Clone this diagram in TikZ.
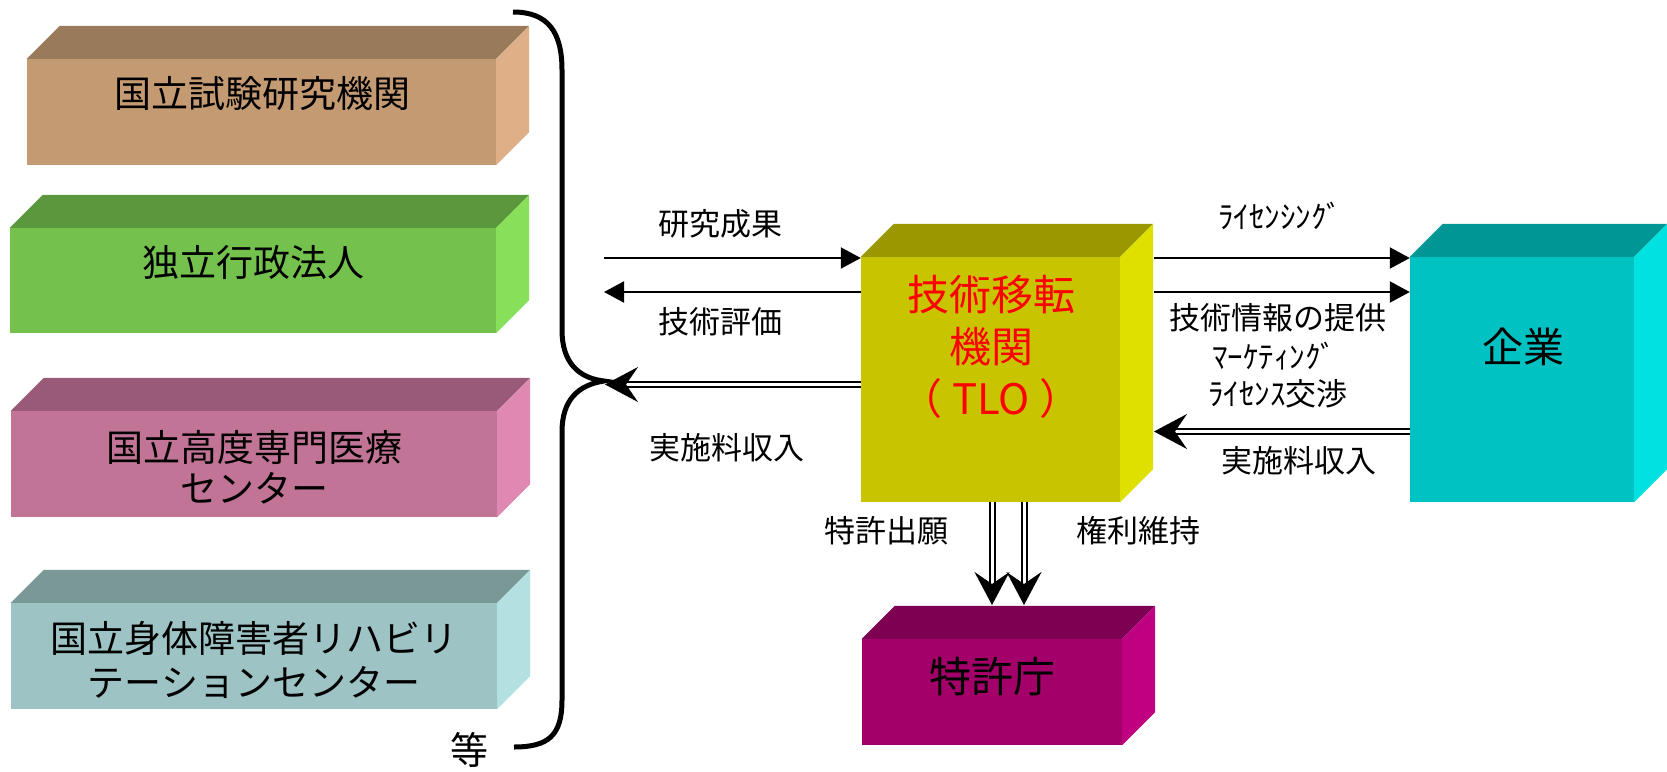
\documentclass[tikz,border=0pt]{standalone}
\usepackage{fontspec}
\setmainfont{Noto Sans CJK JP}
\usetikzlibrary{arrows.meta,calc}
\definecolor{bAf}{HTML}{C49A73}\definecolor{bAt}{HTML}{997B5C}\definecolor{bAs}{HTML}{DFB088}
\definecolor{bBf}{HTML}{74C24D}\definecolor{bBt}{HTML}{5B973C}\definecolor{bBs}{HTML}{88E05A}
\definecolor{bCf}{HTML}{C27496}\definecolor{bCt}{HTML}{985A76}\definecolor{bCs}{HTML}{DE88B2}
\definecolor{bDf}{HTML}{9DC3C5}\definecolor{bDt}{HTML}{7A9896}\definecolor{bDs}{HTML}{B3E1E1}
\definecolor{tlof}{HTML}{C8C400}\definecolor{tlot}{HTML}{9A9800}\definecolor{tlos}{HTML}{E0E000}
\definecolor{kigf}{HTML}{00C2C2}\definecolor{kigt}{HTML}{009696}\definecolor{kigs}{HTML}{00E2E2}
\definecolor{tokf}{HTML}{A4006A}\definecolor{tokt}{HTML}{7E0052}\definecolor{toks}{HTML}{BF0080}
\newcommand\cubefaces[3]{%
  \fill[#2] (#1.north west) -- ($(#1.north west)+(33,-33)$) -- ($(#1.north east)+(33,-33)$) -- (#1.north east) -- cycle;
  \fill[#3] (#1.north east) -- ($(#1.north east)+(33,-33)$) -- ($(#1.south east)+(33,-33)$) -- (#1.south east) -- cycle;}
\tikzset{
  face/.style={rectangle, inner sep=0pt, draw=none},
  lbl/.style={inner sep=0pt, align=center, font=\fontsize{37}{42}\selectfont},
  small/.style={inner sep=0pt, align=center, font=\fontsize{31}{36}\selectfont},
  big/.style={inner sep=0pt, align=center, font=\fontsize{42}{52}\selectfont},
  arr/.style={line width=2pt, -{Triangle[length=20pt,width=21pt]}},
  dbl/.style={double, double distance=3pt, line width=2pt, -{Stealth[length=33pt,width=35pt,inset=12pt]}},
}
\begin{document}
\begin{tikzpicture}[x=1pt,y=-1pt]
\useasboundingbox (0,0) rectangle (1667,771);
% left boxes
\node[face, fill=bAf, minimum width=469pt, minimum height=106pt] (b1) at (261.5,112) {};
\cubefaces{b1}{bAt}{bAs}
\node[face, fill=bBf, minimum width=486pt, minimum height=105pt] (b2) at (253,280.5) {};
\cubefaces{b2}{bBt}{bBs}
\node[face, fill=bCf, minimum width=486pt, minimum height=106pt] (b3) at (254,464) {};
\cubefaces{b3}{bCt}{bCs}
\node[face, fill=bDf, minimum width=486pt, minimum height=106pt] (b4) at (254,656) {};
\cubefaces{b4}{bDt}{bDs}
\node[lbl] (t1) at (262,93) {国立試験研究機関};
\node[lbl] (t2) at (253,262) {独立行政法人};
\node[lbl, font=\fontsize{37}{41}\selectfont] (t3) at (254,467.5) {国立高度専門医療\\センター};
\node[lbl, font=\fontsize{37}{44}\selectfont] (t4) at (254,660) {国立身体障害者リハビリ\\テーションセンター};
% brace
\draw[line width=5pt] (513,12) .. controls (548,12) and (562,32) .. (562,70) -- (562,330)
  .. controls (562,362) and (578,378) .. (604,381) .. controls (578,385) and (562,400) .. (562,432)
  -- (562,700) .. controls (562,735) and (549,747) .. (514,747);
\node[lbl, font=\fontsize{38}{42}\selectfont] (etc) at (469,750) {等};
% TLO
\node[face, fill=tlof, minimum width=259pt, minimum height=245pt] (tlo) at (990.5,379.5) {};
\cubefaces{tlo}{tlot}{tlos}
\node[big, text=red] (tlot) at (991,347) {技術移転\\機関\\（ TLO ）};
% company
\node[face, fill=kigf, minimum width=224pt, minimum height=245pt] (kig) at (1522,379.5) {};
\cubefaces{kig}{kigt}{kigs}
\node[big, font=\fontsize{41}{48}\selectfont] (kigl) at (1523,347) {企業};
% patent office
\node[face, fill=tokf, minimum width=260pt, minimum height=106pt] (tok) at (992,692) {};
\cubefaces{tok}{tokt}{toks}
\node[big] (tokl) at (992,677) {特許庁};
% coordinates
\coordinate (la) at (604,258);
\coordinate (lb) at (604,292);
\coordinate (lc) at (605,384.5);
\coordinate (ra) at (1154,258);
\coordinate (rb) at (1154,292);
\coordinate (rc) at (1154,431.5);
\coordinate (da) at (992,605);
\coordinate (db) at (1024,605);
% arrows
\draw[arr] (la) -- (tlo.west |- la);
\draw[arr] (tlo.west |- lb) -- (lb);
\draw[dbl] (tlo.west |- lc) -- (lc);
\draw[arr] (ra) -- (kig.west |- ra);
\draw[arr] (rb) -- (kig.west |- rb);
\draw[dbl] (kig.west |- rc) -- (rc);
\draw[dbl] (tlo.south -| da) -- (da);
\draw[dbl] (tlo.south -| db) -- (db);
% labels
\node[small] (l1) at (720,224) {研究成果};
\node[small] (l2) at (720,322) {技術評価};
\node[small] (l3) at (727,448) {実施料収入};
\node[small] (r1) at (1280,216) {ﾗｲｾﾝｼﾝｸﾞ};
\node[small] (r2) at (1278,318) {技術情報の提供};
\node[small] (r3) at (1274,356) {ﾏｰｹﾃｨﾝｸﾞ};
\node[small] (r4) at (1278,394) {ﾗｲｾﾝｽ交渉};
\node[small] (r5) at (1299,461) {実施料収入};
\node[small] (d1) at (886,531) {特許出願};
\node[small] (d2) at (1138,531) {権利維持};
\end{tikzpicture}
\end{document}
